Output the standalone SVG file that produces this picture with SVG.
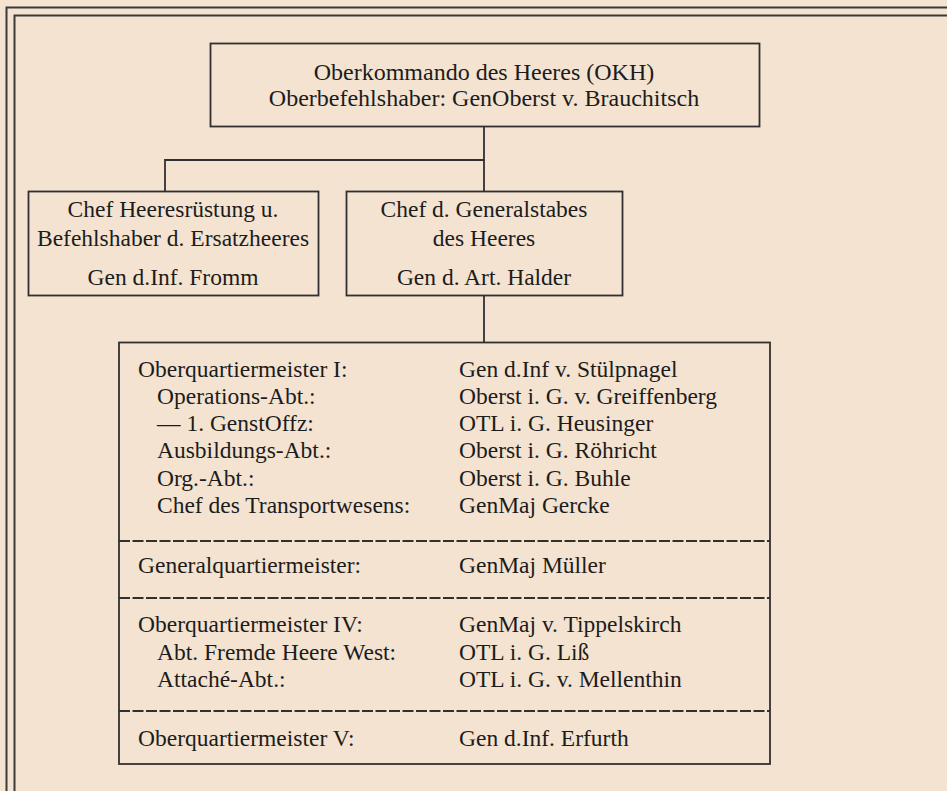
<svg xmlns="http://www.w3.org/2000/svg" width="947" height="791" viewBox="0 0 947 791">
<style>
.bg{fill:#f4e3d0}
.frame{fill:none;stroke:#3a3a3a;stroke-width:2}
.box{fill:none;stroke:#303030;stroke-width:1.8}
.conn{fill:none;stroke:#303030;stroke-width:1.8}
.dash{fill:none;stroke:#303030;stroke-width:2;stroke-dasharray:11 2.5}
text{font-family:"Liberation Serif","Times New Roman",serif;fill:#1c1c1c}
.h{font-size:24px;text-anchor:middle}
.s{font-size:23.5px;text-anchor:middle}
.t{font-size:23.5px}
</style>
<rect class="bg" x="0" y="0" width="947" height="791"/>
<g id="frame">
<path class="frame" d="M6.5 791 V7.5 H947"/>
<path class="frame" d="M14.5 791 V15.5 H947"/>
</g>
<g id="connectors">
<path class="conn" d="M484 126 V160 H165 V191"/>
<path class="conn" d="M484 160 V191"/>
<path class="conn" d="M484 295 V342"/>
</g>
<g id="okh">
<rect class="box" x="210.5" y="43.5" width="549" height="83"/>
<text class="h" x="484" y="80">Oberkommando des Heeres (OKH)</text>
<text class="h" x="484" y="106">Oberbefehlshaber: GenOberst v. Brauchitsch</text>
</g>
<g id="ersatzheer">
<rect class="box" x="28.5" y="191.5" width="290" height="104"/>
<text class="s" x="173" y="217">Chef Heeresrüstung u.</text>
<text class="s" x="173" y="246">Befehlshaber d. Ersatzheeres</text>
<text class="s" x="173" y="285">Gen d.Inf. Fromm</text>
</g>
<g id="generalstab">
<rect class="box" x="346.5" y="191.5" width="276" height="104"/>
<text class="s" x="484" y="217">Chef d. Generalstabes</text>
<text class="s" x="484" y="246">des Heeres</text>
<text class="s" x="484" y="285">Gen d. Art. Halder</text>
</g>
<g id="stab-table">
<rect class="box" x="119" y="342.5" width="651" height="421.5"/>
<text class="t" x="138" y="377">Oberquartiermeister I:</text>
<text class="t" x="459" y="377">Gen d.Inf v. Stülpnagel</text>
<text class="t" x="157" y="404">Operations-Abt.:</text>
<text class="t" x="459" y="404">Oberst i. G. v. Greiffenberg</text>
<text class="t" x="157" y="431">— 1. GenstOffz:</text>
<text class="t" x="459" y="431">OTL i. G. Heusinger</text>
<text class="t" x="157" y="458">Ausbildungs-Abt.:</text>
<text class="t" x="459" y="458">Oberst i. G. Röhricht</text>
<text class="t" x="157" y="486">Org.-Abt.:</text>
<text class="t" x="459" y="486">Oberst i. G. Buhle</text>
<text class="t" x="157" y="513">Chef des Transportwesens:</text>
<text class="t" x="459" y="513">GenMaj Gercke</text>
<path class="dash" d="M119 541 H770"/>
<text class="t" x="138" y="573">Generalquartiermeister:</text>
<text class="t" x="459" y="573">GenMaj Müller</text>
<path class="dash" d="M119 598 H770"/>
<text class="t" x="138" y="632">Oberquartiermeister IV:</text>
<text class="t" x="459" y="632">GenMaj v. Tippelskirch</text>
<text class="t" x="157" y="660">Abt. Fremde Heere West:</text>
<text class="t" x="459" y="660">OTL i. G. Liß</text>
<text class="t" x="157" y="687">Attaché-Abt.:</text>
<text class="t" x="459" y="687">OTL i. G. v. Mellenthin</text>
<path class="dash" d="M119 711 H770"/>
<text class="t" x="138" y="746">Oberquartiermeister V:</text>
<text class="t" x="459" y="746">Gen d.Inf. Erfurth</text>
</g>
</svg>
